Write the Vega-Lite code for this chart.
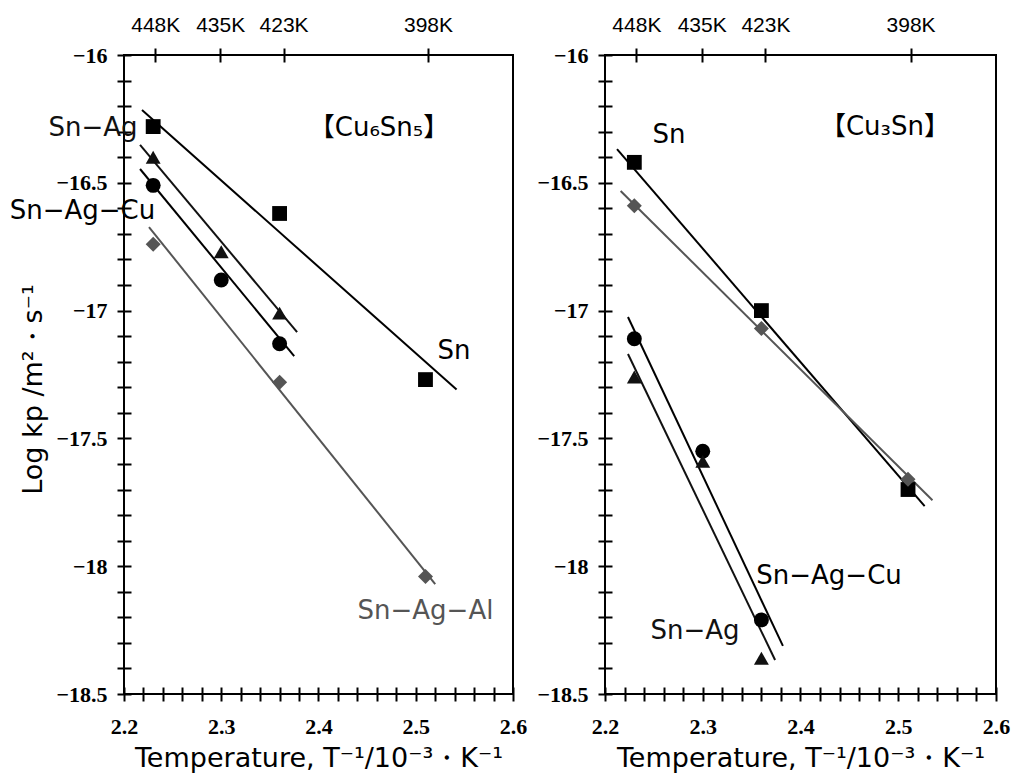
{
  "$schema": "https://vega.github.io/schema/vega-lite/v6.json",
  "padding": {"left": 8, "top": 13, "right": 2, "bottom": 5},
  "spacing": 7,
  "background": "white",
  "config": {
    "view": {"stroke": "black", "strokeWidth": 2, "fill": "transparent"},
    "font": "DejaVu Sans",
    "axis": {
      "domain": false, "ticks": true, "zindex": 1, "offset": -7,
      "labelFont": "Liberation Sans Narrow", "labelFontWeight": "bold", "labelFontSize": 22, "labelColor": "black",
      "titleFont": "DejaVu Sans", "titleFontSize": 27, "titleFontWeight": "normal", "titleColor": "black",
      "grid": false, "labelOverlap": false, "labelFlush": false
    }
  },
  "datasets": {
    "points": [
      {"panel": "Cu6Sn5", "alloy": "Sn", "x": 2.23, "y": -16.28},
      {"panel": "Cu6Sn5", "alloy": "Sn", "x": 2.36, "y": -16.62},
      {"panel": "Cu6Sn5", "alloy": "Sn", "x": 2.51, "y": -17.27},
      {"panel": "Cu6Sn5", "alloy": "Sn-Ag", "x": 2.23, "y": -16.40},
      {"panel": "Cu6Sn5", "alloy": "Sn-Ag", "x": 2.30, "y": -16.77},
      {"panel": "Cu6Sn5", "alloy": "Sn-Ag", "x": 2.36, "y": -17.01},
      {"panel": "Cu6Sn5", "alloy": "Sn-Ag-Cu", "x": 2.23, "y": -16.51},
      {"panel": "Cu6Sn5", "alloy": "Sn-Ag-Cu", "x": 2.30, "y": -16.88},
      {"panel": "Cu6Sn5", "alloy": "Sn-Ag-Cu", "x": 2.36, "y": -17.13},
      {"panel": "Cu6Sn5", "alloy": "Sn-Ag-Al", "x": 2.23, "y": -16.74},
      {"panel": "Cu6Sn5", "alloy": "Sn-Ag-Al", "x": 2.36, "y": -17.28},
      {"panel": "Cu6Sn5", "alloy": "Sn-Ag-Al", "x": 2.51, "y": -18.04},
      {"panel": "Cu3Sn", "alloy": "Sn", "x": 2.23, "y": -16.42},
      {"panel": "Cu3Sn", "alloy": "Sn", "x": 2.36, "y": -17.00},
      {"panel": "Cu3Sn", "alloy": "Sn", "x": 2.51, "y": -17.70},
      {"panel": "Cu3Sn", "alloy": "Sn-Ag-Al", "x": 2.23, "y": -16.59},
      {"panel": "Cu3Sn", "alloy": "Sn-Ag-Al", "x": 2.36, "y": -17.07},
      {"panel": "Cu3Sn", "alloy": "Sn-Ag-Al", "x": 2.51, "y": -17.66},
      {"panel": "Cu3Sn", "alloy": "Sn-Ag-Cu", "x": 2.23, "y": -17.11},
      {"panel": "Cu3Sn", "alloy": "Sn-Ag-Cu", "x": 2.30, "y": -17.55},
      {"panel": "Cu3Sn", "alloy": "Sn-Ag-Cu", "x": 2.36, "y": -18.21},
      {"panel": "Cu3Sn", "alloy": "Sn-Ag", "x": 2.23, "y": -17.26},
      {"panel": "Cu3Sn", "alloy": "Sn-Ag", "x": 2.30, "y": -17.59},
      {"panel": "Cu3Sn", "alloy": "Sn-Ag", "x": 2.36, "y": -18.36}
    ],
    "fits": [
      {"panel": "Cu6Sn5", "alloy": "Sn", "x": 2.2185, "y": -16.215},
      {"panel": "Cu6Sn5", "alloy": "Sn", "x": 2.542, "y": -17.309},
      {"panel": "Cu6Sn5", "alloy": "Sn-Ag", "x": 2.2165, "y": -16.352},
      {"panel": "Cu6Sn5", "alloy": "Sn-Ag", "x": 2.378, "y": -17.084},
      {"panel": "Cu6Sn5", "alloy": "Sn-Ag-Cu", "x": 2.2165, "y": -16.446},
      {"panel": "Cu6Sn5", "alloy": "Sn-Ag-Cu", "x": 2.375, "y": -17.178},
      {"panel": "Cu6Sn5", "alloy": "Sn-Ag-Al", "x": 2.2257, "y": -16.673},
      {"panel": "Cu6Sn5", "alloy": "Sn-Ag-Al", "x": 2.52, "y": -18.07},
      {"panel": "Cu3Sn", "alloy": "Sn", "x": 2.2123, "y": -16.368},
      {"panel": "Cu3Sn", "alloy": "Sn", "x": 2.527, "y": -17.765},
      {"panel": "Cu3Sn", "alloy": "Sn-Ag-Al", "x": 2.216, "y": -16.532},
      {"panel": "Cu3Sn", "alloy": "Sn-Ag-Al", "x": 2.535, "y": -17.742},
      {"panel": "Cu3Sn", "alloy": "Sn-Ag-Cu", "x": 2.2235, "y": -17.025},
      {"panel": "Cu3Sn", "alloy": "Sn-Ag-Cu", "x": 2.382, "y": -18.312},
      {"panel": "Cu3Sn", "alloy": "Sn-Ag", "x": 2.2235, "y": -17.17},
      {"panel": "Cu3Sn", "alloy": "Sn-Ag", "x": 2.374, "y": -18.367}
    ],
    "labels": [
      {"panel": "Cu6Sn5", "alloy": "Sn-Ag", "text": "Sn−Ag", "x": 2.1681, "y": -16.286},
      {"panel": "Cu6Sn5", "alloy": "Sn-Ag-Cu", "text": "Sn−Ag−Cu", "x": 2.1573, "y": -16.61},
      {"panel": "Cu6Sn5", "alloy": "Sn", "text": "Sn", "x": 2.5393, "y": -17.158},
      {"panel": "Cu6Sn5", "alloy": "Sn-Ag-Al", "text": "Sn−Ag−Al", "x": 2.51, "y": -18.175},
      {"panel": "Cu6Sn5", "alloy": "title", "text": "【Cu₆Sn₅】", "x": 2.4622, "y": -16.286},
      {"panel": "Cu3Sn", "alloy": "Sn", "text": "Sn", "x": 2.2655, "y": -16.313},
      {"panel": "Cu3Sn", "alloy": "title", "text": "【Cu₃Sn】", "x": 2.4864, "y": -16.28},
      {"panel": "Cu3Sn", "alloy": "Sn-Ag-Cu", "text": "Sn−Ag−Cu", "x": 2.4292, "y": -18.038},
      {"panel": "Cu3Sn", "alloy": "Sn-Ag", "text": "Sn−Ag", "x": 2.2921, "y": -18.253}
    ]
  },
  "hconcat": [
    {
      "width": 389, "height": 639,
      "encoding": {
        "x": {"field": "x", "type": "quantitative", "scale": {"domain": [2.2, 2.6], "nice": false, "zero": false},
          "axis": {"orient": "bottom", "title": "Temperature, T⁻¹/10⁻³・K⁻¹", "values": [2.2,2.22,2.24,2.26,2.28,2.3,2.32,2.34,2.36,2.38,2.4,2.42,2.44,2.46,2.48,2.5,2.52,2.54,2.56,2.58,2.6], "format": ".1f", "labelExpr": "abs(datum.value*10 - round(datum.value*10)) < 0.01 ? datum.label : ''", "labelPadding": 15, "titlePadding": 8, "tickColor": "black", "tickSize": 14, "tickWidth": 2}},
        "y": {"field": "y", "type": "quantitative", "scale": {"domain": [-18.5, -16], "nice": false, "zero": false},
          "axis": {"title": "Log kp /m²・s⁻¹", "values": [-18.5,-18.4,-18.3,-18.2,-18.1,-18,-17.9,-17.8,-17.7,-17.6,-17.5,-17.4,-17.3,-17.2,-17.1,-17,-16.9,-16.8,-16.7,-16.6,-16.5,-16.4,-16.3,-16.2,-16.1,-16], "format": "~g", "labelExpr": "abs(datum.value*2 - round(datum.value*2)) < 0.01 ? datum.label : ''", "labelPadding": 10, "titlePadding": 8, "titleY": 334, "tickColor": "black", "tickSize": 14, "tickWidth": 2}},
        "color": {"field": "alloy", "type": "nominal", "scale": {"domain": ["Sn", "Sn-Ag", "Sn-Ag-Cu", "Sn-Ag-Al", "title"], "range": ["#000000", "#111111", "#000000", "#555555", "#000000"]}, "legend": null}
      },
      "layer": [
        {
          "data": {"name": "fits"},
          "transform": [{"filter": "datum.panel == 'Cu6Sn5'"}],
          "mark": {"type": "line", "strokeWidth": 2},
          "encoding": {"detail": {"field": "alloy"}}
        },
        {
          "data": {"name": "points"},
          "transform": [{"filter": "datum.panel == 'Cu6Sn5'"}],
          "mark": {"type": "point", "filled": true, "opacity": 1},
          "encoding": {
            "x": {"field": "x", "type": "quantitative", "axis": {"orient": "top", "title": null, "values": [2.2321, 2.2989, 2.3641, 2.5126], "labelExpr": "datum.value < 2.25 ? '448K' : datum.value < 2.33 ? '435K' : datum.value < 2.4 ? '423K' : '398K'", "labelPadding": 13, "labelFont": "Liberation Sans", "labelFontWeight": "normal", "labelFontSize": 21, "tickColor": "black", "tickSize": 14, "tickWidth": 2}},
            "shape": {"field": "alloy", "type": "nominal", "scale": {"domain": ["Sn", "Sn-Ag", "Sn-Ag-Cu", "Sn-Ag-Al"], "range": ["square", "triangle-up", "circle", "diamond"]}, "legend": null},
            "size": {"field": "alloy", "type": "nominal", "scale": {"domain": ["Sn", "Sn-Ag", "Sn-Ag-Cu", "Sn-Ag-Al"], "range": [220, 225, 169, 160]}, "legend": null}
          }
        },
        {
          "data": {"name": "labels"},
          "transform": [{"filter": "datum.panel == 'Cu6Sn5'"}],
          "mark": {"type": "text", "fontSize": 26, "font": "DejaVu Sans, Noto Sans CJK JP", "align": "center", "baseline": "middle"},
          "encoding": {
            "x": {"field": "x", "type": "quantitative", "axis": null},
            "text": {"field": "text"}
          }
        }
      ],
      "resolve": {"axis": {"x": "independent"}}
    },
    {
      "width": 391, "height": 639,
      "encoding": {
        "x": {"field": "x", "type": "quantitative", "scale": {"domain": [2.2, 2.6], "nice": false, "zero": false},
          "axis": {"orient": "bottom", "title": "Temperature, T⁻¹/10⁻³・K⁻¹", "values": [2.2,2.22,2.24,2.26,2.28,2.3,2.32,2.34,2.36,2.38,2.4,2.42,2.44,2.46,2.48,2.5,2.52,2.54,2.56,2.58,2.6], "format": ".1f", "labelExpr": "abs(datum.value*10 - round(datum.value*10)) < 0.01 ? datum.label : ''", "labelPadding": 15, "titlePadding": 8, "tickColor": "black", "tickSize": 14, "tickWidth": 2}},
        "y": {"field": "y", "type": "quantitative", "scale": {"domain": [-18.5, -16], "nice": false, "zero": false},
          "axis": {"title": null, "values": [-18.5,-18.4,-18.3,-18.2,-18.1,-18,-17.9,-17.8,-17.7,-17.6,-17.5,-17.4,-17.3,-17.2,-17.1,-17,-16.9,-16.8,-16.7,-16.6,-16.5,-16.4,-16.3,-16.2,-16.1,-16], "format": "~g", "labelExpr": "abs(datum.value*2 - round(datum.value*2)) < 0.01 ? datum.label : ''", "labelPadding": 10, "tickColor": "black", "tickSize": 14, "tickWidth": 2}},
        "color": {"field": "alloy", "type": "nominal", "scale": {"domain": ["Sn", "Sn-Ag", "Sn-Ag-Cu", "Sn-Ag-Al", "title"], "range": ["#000000", "#111111", "#000000", "#555555", "#000000"]}, "legend": null}
      },
      "layer": [
        {
          "data": {"name": "fits"},
          "transform": [{"filter": "datum.panel == 'Cu3Sn'"}],
          "mark": {"type": "line", "strokeWidth": 2},
          "encoding": {"detail": {"field": "alloy"}}
        },
        {
          "data": {"name": "points"},
          "transform": [{"filter": "datum.panel == 'Cu3Sn'"}],
          "mark": {"type": "point", "filled": true, "opacity": 1},
          "encoding": {
            "x": {"field": "x", "type": "quantitative", "axis": {"orient": "top", "title": null, "values": [2.2321, 2.2989, 2.3641, 2.5126], "labelExpr": "datum.value < 2.25 ? '448K' : datum.value < 2.33 ? '435K' : datum.value < 2.4 ? '423K' : '398K'", "labelPadding": 13, "labelFont": "Liberation Sans", "labelFontWeight": "normal", "labelFontSize": 21, "tickColor": "black", "tickSize": 14, "tickWidth": 2}},
            "shape": {"field": "alloy", "type": "nominal", "scale": {"domain": ["Sn", "Sn-Ag", "Sn-Ag-Cu", "Sn-Ag-Al"], "range": ["square", "triangle-up", "circle", "diamond"]}, "legend": null},
            "size": {"field": "alloy", "type": "nominal", "scale": {"domain": ["Sn", "Sn-Ag", "Sn-Ag-Cu", "Sn-Ag-Al"], "range": [220, 225, 169, 160]}, "legend": null}
          }
        },
        {
          "data": {"name": "labels"},
          "transform": [{"filter": "datum.panel == 'Cu3Sn'"}],
          "mark": {"type": "text", "fontSize": 26, "font": "DejaVu Sans, Noto Sans CJK JP", "align": "center", "baseline": "middle"},
          "encoding": {
            "x": {"field": "x", "type": "quantitative", "axis": null},
            "text": {"field": "text"}
          }
        }
      ],
      "resolve": {"axis": {"x": "independent"}}
    }
  ]
}
